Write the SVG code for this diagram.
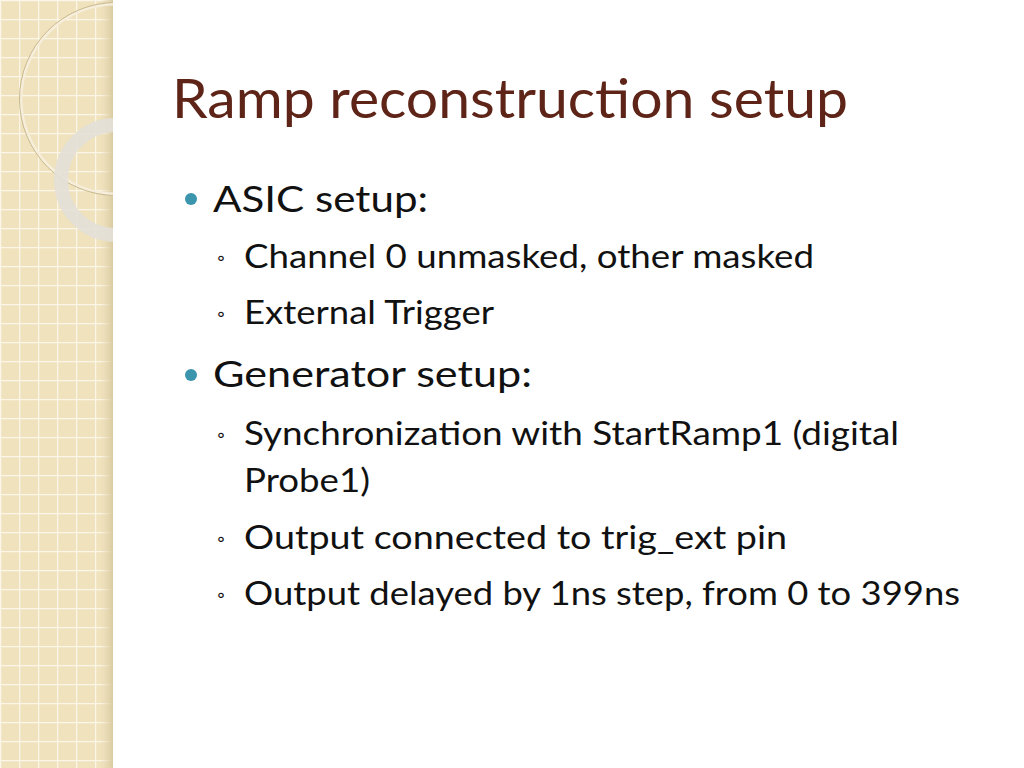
<svg xmlns="http://www.w3.org/2000/svg" width="1024" height="768" viewBox="0 0 1024 768">
<defs>
<pattern id="grid" width="19" height="19" patternUnits="userSpaceOnUse">
<rect width="19" height="19" fill="#efe2bd"/>
<path d="M0 0.5H19M0.5 0V19" stroke="#fbf6e8" stroke-width="1.5"/>
</pattern>
<linearGradient id="edge" x1="0" x2="1"><stop offset="0" stop-color="#e6d8b3" stop-opacity="0"/><stop offset="1" stop-color="#d9caa0"/></linearGradient>
<clipPath id="clip"><rect width="113" height="768"/></clipPath>
</defs>
<style>
.t{font-family:Lato,"Open Sans",sans-serif;fill:#111}
.l1{font-size:37px}
.l2{font-size:32px}
.b{fill:#3a95ad}
</style>
<rect width="1024" height="768" fill="#fff"/>
<g id="strip" clip-path="url(#clip)">
<rect width="113" height="768" fill="url(#grid)"/>
<rect x="100" width="13" height="768" fill="url(#edge)"/>
<circle cx="116" cy="99" r="95" fill="none" stroke="#f6eedb" stroke-width="3"/>
<circle cx="116" cy="99" r="96.5" fill="none" stroke="#c9b98e" stroke-width="1"/>
<circle cx="116" cy="180" r="55" fill="none" stroke="#e3e0d8" stroke-width="14" opacity="0.9"/>
</g>
<text class="t" x="172" y="118" font-size="54" textLength="676" lengthAdjust="spacingAndGlyphs" style="fill:#5e2418">Ramp reconstruction setup</text>
<g id="bullets">
<circle class="b" cx="191" cy="199" r="6"/>
<text class="t l1" x="213" y="212" textLength="215" lengthAdjust="spacingAndGlyphs">ASIC setup:</text>
<text class="t" x="217" y="265" font-size="20">◦</text>
<text class="t l2" x="244" y="268" textLength="570" lengthAdjust="spacingAndGlyphs">Channel 0 unmasked, other masked</text>
<text class="t" x="217" y="321" font-size="20">◦</text>
<text class="t l2" x="244" y="324" textLength="250" lengthAdjust="spacingAndGlyphs">External Trigger</text>
<circle class="b" cx="191" cy="375" r="6"/>
<text class="t l1" x="213" y="387" textLength="319" lengthAdjust="spacingAndGlyphs">Generator setup:</text>
<text class="t" x="217" y="442" font-size="20">◦</text>
<text class="t l2" x="244" y="445" textLength="655" lengthAdjust="spacingAndGlyphs">Synchronization with StartRamp1 (digital</text>
<text class="t l2" x="244" y="492" textLength="126" lengthAdjust="spacingAndGlyphs">Probe1)</text>
<text class="t" x="217" y="546" font-size="20">◦</text>
<text class="t l2" x="244" y="549" textLength="543" lengthAdjust="spacingAndGlyphs">Output connected to trig_ext pin</text>
<text class="t" x="217" y="602" font-size="20">◦</text>
<text class="t l2" x="244" y="605" textLength="716" lengthAdjust="spacingAndGlyphs">Output delayed by 1ns step, from 0 to 399ns</text>
</g>
</svg>
